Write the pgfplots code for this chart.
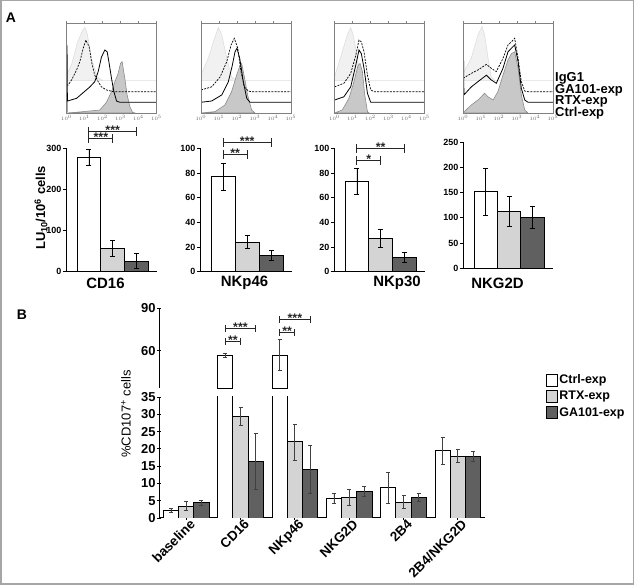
\documentclass[border=0pt]{standalone}
\usepackage{fontspec}
\setmainfont{Liberation Sans}
\usepackage{pgfplots}
\pgfplotsset{compat=1.18}
\definecolor{ltg}{RGB}{212,212,212}
\definecolor{dkg}{RGB}{96,96,96}
\definecolor{ctrlfill}{RGB}{200,200,200}
\definecolor{ctrlline}{RGB}{140,140,140}
\definecolor{iggfill}{RGB}{241,241,241}
\definecolor{iggline}{RGB}{222,222,222}

\pgfplotsset{
 hist/.style={scale only axis, width=90bp, height=90bp, anchor=south west,
   xmin=0, xmax=5, ymin=0, ymax=100, enlargelimits=false, ytick=\empty,
   xtick={0,1,2,3,4,5}, xticklabels={$10^0$,$10^1$,$10^2$,$10^3$,$10^4$,$10^5$},
   x tick label style={font=\fontsize{3}{3}\selectfont, black!60, inner sep=0.5bp},
   tick align=outside, major tick length=1.5bp, xtick style={black!50, line width=0.3bp},
   axis line style={black!50, line width=0.6bp}, axis on top},
 igg/.style={fill=iggfill, draw=iggline, line width=0.6bp},
 ctrl/.style={fill=ctrlfill, draw=ctrlline, line width=0.6bp},
 gaexp/.style={black, line width=0.7bp, dash pattern=on 2bp off 1.2bp},
 rtx/.style={black, line width=0.8bp},
 pA/.style={scale only axis, width=91bp, height=123.4bp, anchor=south west,
   axis x line=bottom, axis y line=left, axis line style={-, line width=1bp},
   xmin=-0.97, xmax=2.87, ymin=0, enlargelimits=false, xtick=\empty, clip=false,
   tick align=outside, major tick length=3bp, ytick style={line width=0.8bp, black},
   yticklabel style={font=\bfseries\fontsize{9}{10}\selectfont, inner sep=1.5bp},
   /pgf/number format/assume math mode=true},
 ebA/.style={ybar, bar width=1, bar shift=0, draw=black, line width=0.9bp,
   error bars/y dir=both, error bars/y explicit,
   error bars/error bar style={line width=0.9bp, black},
   error bars/error mark options={rotate=90, mark size=2.5bp, line width=0.9bp, black}},
 brA/.style={sharp plot, black!85, line width=1bp, mark=|, mark size=4.5bp, mark options={solid, line width=1bp}},
 pB/.style={scale only axis, width=326bp, anchor=south west,
   xmin=-0.5, xmax=5.5, enlargelimits=false,
   tick align=outside, major tick length=3.5bp, tick style={line width=0.9bp, black},
   yticklabel style={font=\bfseries\fontsize{13}{14}\selectfont, inner sep=1.5bp},
   /pgf/number format/assume math mode=true},
 noarrow/.style={axis line style={-, line width=1bp}},
 ebB/.style={ybar, bar width=0.28, bar shift=0, draw=black, line width=0.9bp,
   error bars/y dir=both, error bars/y explicit,
   error bars/error bar style={line width=0.8bp, black!75},
   error bars/error mark options={rotate=90, mark size=2bp, line width=0.8bp, black!75}},
 legbox/.style={legend image code/.code={\draw[##1, line width=0.8bp] (0bp,-6bp) rectangle (11bp,6bp);}},
}
\tikzset{star/.style={font=\bfseries\fontsize{12.5}{12.5}\selectfont, anchor=base, yshift=-0.3em, inner sep=0pt, black!85}}

\begin{document}
\begin{tikzpicture}[x=1bp,y=1bp]
\path[use as bounding box] (0,0) rectangle (634,585);
\draw[black!35, line width=1.5bp] (0.75,0.75) rectangle (633.25,584.25);
\node[font=\bfseries\fontsize{14}{14}\selectfont] at (11,567) {A};
\node[font=\bfseries\fontsize{14}{14}\selectfont] at (22,270) {B};

% ---------- histograms ----------
\begin{axis}[hist, at={(66.5bp,472bp)}]
\addplot[igg] coordinates {(0,36) (0,42) (0.3,55) (0.6,78) (0.9,92) (1.02,95) (1.15,88) (1.4,60) (1.7,40) (2,36) (5,36)} -- cycle;
\addplot[ctrl] coordinates {(0,0) (0.5,0.7) (1.85,3.3) (2.22,11.9) (2.5,23.7) (2.69,34.8) (2.87,44) (3.0,55) (3.09,57) (3.24,38.5) (3.37,20) (3.52,7) (3.67,0.7) (3.8,0)} -- cycle;
\addplot[gaexp] coordinates {(0,31) (0.09,31) (0.28,36.7) (0.56,47.8) (0.74,57) (0.93,71.9) (1.07,81) (1.26,73.7) (1.39,57) (1.57,42) (1.76,34.8) (1.94,29) (2.22,25.6) (2.59,23.7) (5,23.7)};
\addplot[rtx] coordinates {(0.03,1) (0.03,75) (0.05,13.3) (0.56,16.3) (1.3,29) (1.57,34.8) (1.76,45.9) (1.94,62) (2.13,70) (2.26,68) (2.37,55) (2.5,38.5) (2.63,24) (2.78,13.3) (2.96,11.9) (5,11.9)};
\end{axis}

\begin{axis}[hist, at={(201bp,472bp)}]
\addplot[igg] coordinates {(0,36) (0,42) (0.41,61) (0.69,79) (0.96,95) (1.15,87) (1.43,61) (1.7,40) (1.98,36) (5,36)} -- cycle;
\addplot[ctrl] coordinates {(0,0) (0.78,1.5) (1.33,8.9) (1.7,23.7) (1.98,42) (2.17,53) (2.26,55) (2.41,40) (2.59,20) (2.81,3.3) (3,0)} -- cycle;
\addplot[gaexp] coordinates {(0,25.6) (0.59,29) (1.06,40) (1.43,57) (1.67,75.6) (1.85,83) (2.04,72) (2.22,46) (2.41,29) (2.63,24.4) (2.8,23.7) (5,23.7)};
\addplot[rtx] coordinates {(0,11.9) (0.59,13.3) (1.15,20) (1.52,34.8) (1.74,53) (1.89,68) (2,72) (2.15,60.7) (2.35,34.8) (2.54,16.3) (2.72,11.9) (5,11.9)};
\end{axis}

\begin{axis}[hist, at={(334.5bp,472bp)}]
\addplot[igg] coordinates {(0,36) (0,40) (0.43,68) (0.71,86.7) (0.9,94.8) (1.04,86.7) (1.27,61) (1.46,38.5) (1.6,36) (5,36)} -- cycle;
\addplot[ctrl] coordinates {(0,0) (0.43,3.3) (0.8,16.3) (1.08,34.8) (1.31,53) (1.42,55) (1.55,46) (1.68,20) (1.83,1.5) (1.92,0)} -- cycle;
\addplot[gaexp] coordinates {(0,29) (0.52,33) (0.9,44) (1.18,64) (1.36,81) (1.49,79) (1.64,68) (1.83,42) (2.01,25.6) (2.2,23.7) (5,23.7)};
\addplot[rtx] coordinates {(0,14.4) (0.52,18) (0.9,29) (1.18,53) (1.36,70) (1.49,66) (1.64,49.6) (1.83,21.9) (2.01,11.9) (5,11.9)};
\end{axis}

\begin{axis}[hist, at={(463bp,472bp)}]
\addplot[igg] coordinates {(0,36) (0,44) (0.46,61) (0.83,86.7) (1.06,96) (1.2,86.7) (1.39,61) (1.57,40) (1.76,36) (5,36)} -- cycle;
\addplot[ctrl] coordinates {(0,0) (0.46,8.9) (0.83,14.4) (1.2,21.9) (1.39,18) (1.67,14.4) (1.94,23.7) (2.22,42) (2.5,59) (2.69,66) (2.87,68) (3.06,49.6) (3.24,20) (3.43,3.3) (3.61,0)} -- cycle;
\addplot[gaexp] coordinates {(0,38.5) (0.46,44) (0.83,47.8) (1.3,54) (1.57,49.6) (1.85,46) (2.22,60.7) (2.5,75.6) (2.69,79) (2.87,83) (3.06,60.7) (3.24,34.8) (3.43,24.4) (3.6,23.7) (5,23.7)};
\addplot[rtx] coordinates {(0.03,1) (0.03,64) (0.05,20) (0.46,29) (0.83,34.8) (1.3,42) (1.57,36.7) (1.85,33) (2.22,49.6) (2.5,68) (2.69,72) (2.87,75.6) (3.06,57) (3.24,27.4) (3.43,14.4) (3.61,11.9) (5,11.9)};
\end{axis}

\begin{scope}[font=\bfseries\fontsize{13}{13}\selectfont]
\node[anchor=west, inner sep=0pt] at (555,507) {IgG1};
\node[anchor=west, inner sep=0pt] at (555,494.8) {GA101-exp};
\node[anchor=west, inner sep=0pt] at (555,483.2) {RTX-exp};
\node[anchor=west, inner sep=0pt] at (555,471.8) {Ctrl-exp};
\end{scope}

% ---------- panel A bars ----------
\begin{axis}[pA, at={(66bp,313.3bp)}, ymax=300, ytick={0,100,200,300}]
\addplot[fill=white, ebA] coordinates {(0,278) +- (0,20)};
\addplot[fill=ltg, ebA] coordinates {(1,56) +- (0,20)};
\addplot[fill=dkg, ebA] coordinates {(2,26) +- (0,19)};
\addplot[brA] coordinates {(0,323) (1,323)};
\addplot[brA] coordinates {(0,340) (2,340)};
\node[star] at (axis cs:0.5,323) {***};
\node[star] at (axis cs:1,340) {***};
\end{axis}

\begin{axis}[pA, at={(200bp,313.3bp)}, width=92bp, ymax=100, ytick={0,20,40,60,80,100}]
\addplot[fill=white, ebA] coordinates {(0,77) +- (0,11)};
\addplot[fill=ltg, ebA] coordinates {(1,24) +- (0,5.5)};
\addplot[fill=dkg, ebA] coordinates {(2,13) +- (0,4)};
\addplot[brA] coordinates {(0,94.6) (1,94.6)};
\addplot[brA] coordinates {(0,104.6) (2,104.6)};
\node[star] at (axis cs:0.5,94.6) {**};
\node[star] at (axis cs:1,104.6) {***};
\end{axis}

\begin{axis}[pA, at={(334bp,313.3bp)}, ymax=100, ytick={0,20,40,60,80,100}]
\addplot[fill=white, ebA] coordinates {(0,73) +- (0,10.8)};
\addplot[fill=ltg, ebA] coordinates {(1,27) +- (0,7)};
\addplot[fill=dkg, ebA] coordinates {(2,11.5) +- (0,3.7)};
\addplot[brA] coordinates {(0,90) (1,90)};
\addplot[brA] coordinates {(0,100) (2,100)};
\node[star] at (axis cs:0.5,90) {*};
\node[star] at (axis cs:1,100) {**};
\end{axis}

\begin{axis}[pA, at={(463bp,316.7bp)}, width=90bp, height=126bp, ymax=250, ytick={0,50,100,150,200,250}]
\addplot[fill=white, ebA] coordinates {(0,152) +- (0,47)};
\addplot[fill=ltg, ebA] coordinates {(1,113) +- (0,30)};
\addplot[fill=dkg, ebA] coordinates {(2,101) +- (0,22)};
\end{axis}

\node[rotate=90, font=\bfseries\fontsize{13}{13}\selectfont] at (41,377) {LU\textsubscript{10}/10\textsuperscript{6} cells};
\begin{scope}[font=\bfseries\fontsize{15}{15}\selectfont]
\node at (105.5,302) {CD16};
\node at (244.5,302) {NKp46};
\node at (397,302) {NKp30};
\node at (497.5,302) {NKG2D};
\end{scope}

% ---------- panel B ----------
\begin{axis}[pB, at={(159bp,67bp)}, height=121bp, ymin=0, ymax=35,
  axis x line=bottom, axis y line=left, noarrow, ytick={0,5,...,35},
  xtick={0,1,2,3,4,5}, xticklabels={baseline,CD16,NKp46,NKG2D,2B4,2B4/NKG2D},
  x tick label style={rotate=45, anchor=north east, font=\bfseries\fontsize{13.5}{13.5}\selectfont, inner sep=1bp, xshift=4bp},
  legend style={at={(1.187,1.198)}, anchor=north west, draw=none, fill=none,
    font=\bfseries\fontsize{12.5}{14}\selectfont, row sep=3bp, inner sep=0pt,
    nodes={inner sep=1.5bp}},
  legend cell align=left]
\addplot[fill=white, ebB, legbox] table[x=x, y=y, y error=e] {
x y e
-0.28 2.2 0.5
0.72 57 1.5
1.72 57 11
2.72 5.6 1.5
3.72 8.7 4.6
4.72 19.4 3.8
};
\addplot[fill=ltg, ebB, legbox] table[x=x, y=y, y error=e] {
x y e
0 3.4 1.3
1 29.4 2.7
2 22 5.2
3 6 2.3
4 4.6 1.9
5 17.9 1.9
};
\addplot[fill=dkg, ebB, legbox] table[x=x, y=y, y error=e] {
x y e
0.28 4.4 0.7
1.28 16.4 8
2.28 14 6.9
3.28 7.6 1.4
4.28 6 1.1
5.28 17.8 1.5
};
\legend{Ctrl-exp, RTX-exp, GA101-exp}
\end{axis}

\begin{axis}[pB, at={(159bp,197bp)}, height=80bp, ymin=34, ymax=90,
  axis x line=none, axis y line=left, noarrow, ytick={60,90}, clip=false]
\addplot[fill=white, ebB] table[x=x, y=y, y error=e] {
x y e
0.72 57 1.5
1.72 57 11
};
\addplot[brA, mark size=3.5bp] coordinates {(0.72,66.7) (1,66.7)};
\addplot[brA, mark size=3.5bp] coordinates {(0.72,75.3) (1.28,75.3)};
\addplot[brA, mark size=3.5bp] coordinates {(1.72,72.6) (2,72.6)};
\addplot[brA, mark size=3.5bp] coordinates {(1.72,81.9) (2.28,81.9)};
\node[star] at (axis cs:0.86,66.7) {**};
\node[star] at (axis cs:1,75.3) {***};
\node[star] at (axis cs:1.86,72.6) {**};
\node[star] at (axis cs:2,81.9) {***};
\end{axis}

\node[rotate=90, font=\fontsize{13}{13}\selectfont] at (126,171) {\%CD107\textsuperscript{+} cells};
\end{tikzpicture}
\end{document}
